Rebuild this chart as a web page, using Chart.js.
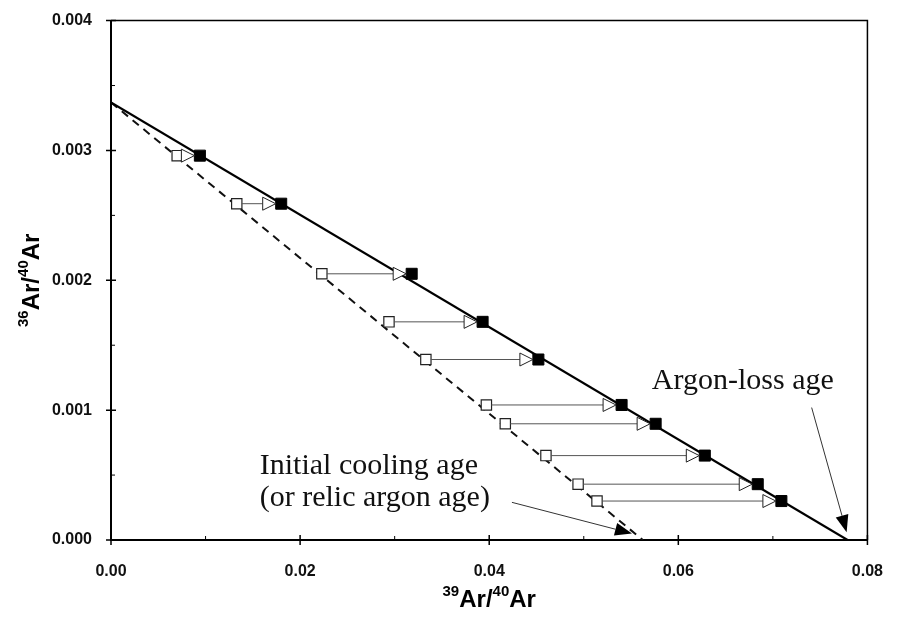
<!DOCTYPE html>
<html>
<head>
<meta charset="utf-8">
<script src="https://cdn.jsdelivr.net/npm/chart.js@4"></script>
<style>
  html, body { margin: 0; padding: 0; background: #fff; }
  canvas { display: block; }
</style>
</head>
<body>
<canvas id="chart" width="897" height="620"></canvas>
<script>
// axis ticks
const xTicks = [0, 0.02, 0.04, 0.06, 0.08];
const yTicks = [0, 0.001, 0.002, 0.003, 0.004];
const xMinor = [0.01, 0.03, 0.05, 0.07];
const yMinor = [0.0005, 0.0015, 0.0025, 0.0035];

// steps: 36Ar/40Ar is the same for both points of a pair
const ratioY  = [0.00296, 0.00259, 0.00205, 0.00168, 0.00139, 0.00104, 0.000895, 0.00065, 0.00043, 0.0003];
const openX   = [0.0070, 0.0133, 0.0223, 0.0294, 0.0333, 0.0397, 0.0417, 0.0460, 0.0494, 0.0514];
const filledX = [0.0094, 0.0180, 0.0318, 0.0393, 0.0452, 0.0540, 0.0576, 0.0628, 0.0684, 0.0709];

// isochrons: common intercept on y, different intercepts on x
const trappedY = 0.00337;
const lossX = 0.0779;
const coolingX = 0.05625;

// annotation texts (anchored in data units) and their pointer arrows
const labels = [
    { text: 'Argon-loss age', x: 0.0572, y: 0.00116 },
    { text: 'Initial cooling age', x: 0.01573, y: 0.000505 },
    { text: '(or relic argon age)', x: 0.01573, y: 0.00026 }
];
const pointers = [
    { from: [0.0741, 0.00102], to: [0.0778, 0.00006] },
    { from: [0.0424, 0.00029], to: [0.0551, 0.00005] }
];

const tickFont = { family: 'Liberation Sans, Arial, sans-serif', size: 16, weight: 'bold' };

function drawSupTitle(ctx, parts, cx, cy, rotate) {
    // parts: [text, isSup]
    ctx.save();
    ctx.translate(cx, cy);
    if (rotate) ctx.rotate(-Math.PI / 2);
    const big = 'bold 24px Liberation Sans, Arial, sans-serif';
    const small = 'bold 15px Liberation Sans, Arial, sans-serif';
    let total = 0;
    parts.forEach(p => { ctx.font = p[1] ? small : big; total += ctx.measureText(p[0]).width; });
    let x = -total / 2;
    ctx.fillStyle = '#000';
    ctx.textBaseline = 'alphabetic';
    ctx.textAlign = 'left';
    parts.forEach(p => {
        ctx.font = p[1] ? small : big;
        ctx.fillText(p[0], x, p[1] ? -2 : 9);
        x += ctx.measureText(p[0]).width;
    });
    ctx.restore();
}

const decorations = {
    id: 'decorations',
    afterDatasetsDraw(chart) {
        const ctx = chart.ctx;
        const xs = chart.scales.x, ys = chart.scales.y;

        // step arrows: open square -> open triangle touching the filled square
        ctx.save();
        for (let i = 0; i < ratioY.length; i++) {
            const y = ys.getPixelForValue(ratioY[i]);
            const x0 = xs.getPixelForValue(openX[i]) + 5;
            const tip = xs.getPixelForValue(filledX[i]) - 5.5;
            const base = tip - 13;
            if (base > x0) {
                ctx.strokeStyle = '#555';
                ctx.lineWidth = 1;
                ctx.beginPath();
                ctx.moveTo(x0, y);
                ctx.lineTo(base, y);
                ctx.stroke();
            }
            ctx.beginPath();
            ctx.moveTo(base, y - 6.5);
            ctx.lineTo(tip, y);
            ctx.lineTo(base, y + 6.5);
            ctx.closePath();
            ctx.fillStyle = '#fff';
            ctx.fill();
            ctx.strokeStyle = '#222';
            ctx.lineWidth = 1;
            ctx.stroke();
        }
        ctx.restore();

        // annotation texts
        ctx.save();
        ctx.fillStyle = '#111';
        ctx.font = '30px Liberation Serif, Times New Roman, serif';
        ctx.textAlign = 'left';
        ctx.textBaseline = 'alphabetic';
        labels.forEach(l => ctx.fillText(l.text, xs.getPixelForValue(l.x), ys.getPixelForValue(l.y)));

        // pointer arrows
        pointers.forEach(p => {
            const x1 = xs.getPixelForValue(p.from[0]), y1 = ys.getPixelForValue(p.from[1]);
            const x2 = xs.getPixelForValue(p.to[0]), y2 = ys.getPixelForValue(p.to[1]);
            const a = Math.atan2(y2 - y1, x2 - x1);
            const len = 17, hw = 6.5;
            const bx = x2 - len * Math.cos(a), by = y2 - len * Math.sin(a);
            ctx.strokeStyle = '#333';
            ctx.lineWidth = 1;
            ctx.beginPath();
            ctx.moveTo(x1, y1);
            ctx.lineTo(bx, by);
            ctx.stroke();
            ctx.fillStyle = '#000';
            ctx.beginPath();
            ctx.moveTo(x2, y2);
            ctx.lineTo(bx + hw * Math.sin(a), by - hw * Math.cos(a));
            ctx.lineTo(bx - hw * Math.sin(a), by + hw * Math.cos(a));
            ctx.closePath();
            ctx.fill();
        });
        ctx.restore();
    },
    afterDraw(chart) {
        const ctx = chart.ctx;
        const xs = chart.scales.x, ys = chart.scales.y;
        const a = chart.chartArea;
        ctx.save();
        ctx.strokeStyle = '#000';

        // top and right frame
        ctx.lineWidth = 1.5;
        ctx.beginPath();
        ctx.moveTo(a.left, a.top);
        ctx.lineTo(a.right, a.top);
        ctx.lineTo(a.right, a.bottom);
        ctx.stroke();

        // tick marks: major ones cross the axis, minor ones sit inside
        ctx.lineWidth = 1.5;
        ctx.beginPath();
        yTicks.forEach(v => { const y = ys.getPixelForValue(v); ctx.moveTo(a.left - 5, y); ctx.lineTo(a.left + 5, y); });
        xTicks.forEach(v => { const x = xs.getPixelForValue(v); ctx.moveTo(x, a.bottom - 5); ctx.lineTo(x, a.bottom + 5); });
        ctx.stroke();
        ctx.lineWidth = 1;
        ctx.beginPath();
        yMinor.forEach(v => { const y = ys.getPixelForValue(v); ctx.moveTo(a.left, y); ctx.lineTo(a.left + 4, y); });
        xMinor.forEach(v => { const x = xs.getPixelForValue(v); ctx.moveTo(x, a.bottom); ctx.lineTo(x, a.bottom - 4); });
        ctx.stroke();
        ctx.restore();

        // axis titles with superscripts
        const midX = (a.left + a.right) / 2, midY = (a.top + a.bottom) / 2;
        drawSupTitle(ctx, [['39', true], ['Ar/', false], ['40', true], ['Ar', false]], midX, 598, false);
        drawSupTitle(ctx, [['36', true], ['Ar/', false], ['40', true], ['Ar', false]], 30, midY, true);
    }
};

new Chart(document.getElementById('chart'), {
    type: 'scatter',
    data: {
        datasets: [
            {
                label: 'filled',
                data: filledX.map((x, i) => ({ x: x, y: ratioY[i] })),
                pointStyle: 'rect',
                pointRadius: 7.8,
                backgroundColor: '#000',
                borderColor: '#000',
                borderWidth: 1,
                order: 0
            },
            {
                label: 'open',
                data: openX.map((x, i) => ({ x: x, y: ratioY[i] })),
                pointStyle: 'rect',
                pointRadius: 7.3,
                backgroundColor: '#fff',
                borderColor: '#222',
                borderWidth: 1.2,
                order: 1
            },
            {
                label: 'argon loss',
                data: [{ x: 0, y: trappedY }, { x: lossX, y: 0 }],
                showLine: true,
                pointRadius: 0,
                borderColor: '#000',
                borderWidth: 2.2,
                order: 3
            },
            {
                label: 'cooling',
                data: [{ x: 0, y: trappedY }, { x: coolingX, y: 0 }],
                showLine: true,
                pointRadius: 0,
                borderColor: '#111',
                borderWidth: 2,
                borderDash: [8, 6],
                order: 3
            }
        ]
    },
    options: {
        responsive: false,
        animation: false,
        layout: { padding: { top: 17, right: 18, left: 0, bottom: 0 } },
        plugins: { legend: { display: false }, tooltip: { enabled: false } },
        scales: {
            x: {
                type: 'linear',
                min: 0,
                max: 0.08,
                afterBuildTicks: s => { s.ticks = xTicks.map(v => ({ value: v })); },
                afterFit: s => { s.height = 80; },
                grid: { display: false },
                border: { display: true, color: '#000', width: 2 },
                ticks: {
                    color: '#111',
                    font: tickFont,
                    padding: 14,
                    maxRotation: 0,
                    callback: v => v.toFixed(2)
                }
            },
            y: {
                type: 'linear',
                min: 0,
                max: 0.004,
                afterBuildTicks: s => { s.ticks = yTicks.map(v => ({ value: v })); },
                afterFit: s => { s.width = 111; },
                grid: { display: false },
                border: { display: true, color: '#000', width: 2 },
                ticks: {
                    color: '#111',
                    font: tickFont,
                    padding: 11,
                    callback: v => v.toFixed(3)
                }
            }
        }
    },
    plugins: [decorations]
});
</script>
</body>
</html>
